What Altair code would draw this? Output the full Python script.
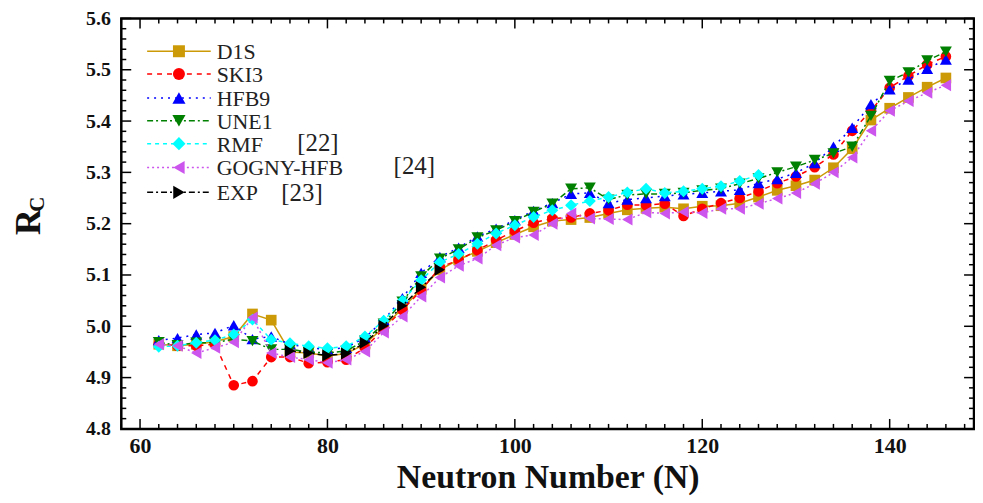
import altair as alt
import pandas as pd

# ---------------- data ----------------
N_ALL = list(range(62, 147, 2))   # 43 isotopes
N_RMF = list(range(62, 127, 2))   # 33
N_EXP = list(range(76, 93, 2))    # 9

D1S = [4.965, 4.962, 4.965, 4.970, 4.980,
       5.024, 5.012, 4.950, 4.948, 4.942,
       4.947, 4.965, 4.998, 5.035, 5.072,
       5.110, 5.130, 5.146, 5.163, 5.179,
       5.194, 5.205, 5.208, 5.212, 5.220,
       5.227, 5.230, 5.232, 5.229, 5.234,
       5.235, 5.240, 5.252, 5.265, 5.274,
       5.285, 5.309, 5.346, 5.402, 5.425,
       5.446, 5.466, 5.484]
SKI3 = [4.966, 4.962, 4.962, 4.965, 4.885,
        4.893, 4.940, 4.940, 4.928, 4.930,
        4.935, 4.958, 4.995, 5.032, 5.070,
        5.115, 5.129, 5.148, 5.168, 5.186,
        5.202, 5.210, 5.212, 5.220, 5.226,
        5.237, 5.236, 5.239, 5.215, 5.229,
        5.240, 5.250, 5.263, 5.279, 5.292,
        5.310, 5.335, 5.381, 5.420, 5.465,
        5.488, 5.510, 5.526]
HFB9 = [4.973, 4.977, 4.984, 4.987, 5.002,
        4.975, 4.980, 4.965, 4.958, 4.955,
        4.958, 4.978, 5.012, 5.055, 5.104,
        5.135, 5.153, 5.175, 5.190, 5.207,
        5.225, 5.240, 5.258, 5.260, 5.240,
        5.247, 5.250, 5.254, 5.257, 5.260,
        5.263, 5.266, 5.279, 5.287, 5.299,
        5.318, 5.350, 5.387, 5.433, 5.462,
        5.481, 5.502, 5.520]
UNE1 = [4.969, 4.963, 4.968, 4.968, 4.975,
        4.971, 4.955, 4.955, 4.950, 4.948,
        4.952, 4.972, 5.005, 5.048, 5.097,
        5.132, 5.150, 5.173, 5.187, 5.205,
        5.223, 5.239, 5.268, 5.270, 5.247,
        5.256, 5.258, 5.258, 5.260, 5.265,
        5.268, 5.278, 5.288, 5.300, 5.311,
        5.324, 5.337, 5.350, 5.410, 5.478,
        5.495, 5.518, 5.535]
RMF = [4.960, 4.962, 4.968, 4.973, 4.984,
       5.013, 4.974, 4.967, 4.961, 4.957,
       4.961, 4.980, 5.011, 5.050, 5.090,
       5.125, 5.141, 5.161, 5.181, 5.197,
       5.213, 5.226, 5.236, 5.244, 5.252,
       5.261, 5.268, 5.260, 5.263, 5.268,
       5.273, 5.283, 5.295]
GOGNY = [4.965, 4.962, 4.948, 4.958, 4.969,
         5.017, 4.948, 4.940, 4.935, 4.929,
         4.935, 4.951, 4.988, 5.019, 5.058,
         5.095, 5.118, 5.132, 5.158, 5.173,
         5.178, 5.200, 5.220, 5.210, 5.209,
         5.208, 5.222, 5.220, 5.223, 5.221,
         5.229, 5.229, 5.239, 5.249, 5.260,
         5.278, 5.300, 5.329, 5.381, 5.420,
         5.439, 5.455, 5.470]
EXP = [4.952, 4.948, 4.943, 4.947, 4.968, 5.001, 5.040, 5.076, 5.110]

SERIES_NAMES = ["D1S", "SKI3", "HFB9", "UNE1", "RMF", "GOGNY-HFB", "EXP"]
SERIES_REFS = ["", "", "", "", "[22]", "[24]", "[23]"]
SERIES_X = [N_ALL, N_ALL, N_ALL, N_ALL, N_RMF, N_ALL, N_EXP]
SERIES_Y = [D1S, SKI3, HFB9, UNE1, RMF, GOGNY, EXP]

X_LABELS = [60, 80, 100, 120, 140]
Y_LABELS = [round(4.8 + 0.1 * i, 1) for i in range(9)]

# ---------------- styles ----------------
COLORS = ["#CC9A06", "#FF0000", "#0000FF", "#008000", "#00FFFF", "#CC55EE", "#000000"]
SHAPES = ["square", "circle", "triangle-up", "triangle-down", "diamond",
          "triangle-left", "triangle-right"]
DASHES = [None, [5, 5], [2, 5], [6, 3, 2, 3], [4, 4], [2, 3], [6, 3, 2, 3]]
SIZES = [115, 115, 145, 145, 145, 145, 145]

W, H = 858, 413
FONT = "Liberation Serif"
XDOM = [58, 149]
YDOM = [4.8, 5.6]

x_axis = alt.Axis(values=X_LABELS, title="Neutron Number (N)", ticks=False, domain=False,
                  grid=False, labelFont=FONT, labelFontSize=22, labelFontWeight="bold",
                  labelColor="#111111", labelPadding=7, labelFlush=False,
                  titleFont=FONT, titleFontSize=34, titleFontWeight="bold",
                  titleColor="#111111", titlePadding=4)
y_axis = alt.Axis(values=Y_LABELS, format=".1f", title="", ticks=False, domain=False,
                  grid=False, labelFont=FONT, labelFontSize=20, labelFontWeight="bold",
                  labelColor="#111111", labelPadding=11, labelFlush=False)


def xenc(field):
    return alt.X(f"{field}:Q", scale=alt.Scale(domain=XDOM, nice=False, zero=False), axis=x_axis)


def yenc(field):
    return alt.Y(f"{field}:Q", scale=alt.Scale(domain=YDOM, nice=False, zero=False), axis=y_axis)


layers = []

# ---- inward ticks on all four sides ----
x_minor = [n for n in range(58, 150, 2) if n % 20 != 0]
x_major = [n for n in range(58, 150, 2) if n % 20 == 0]
y_all = [round(4.8 + 0.02 * i, 2) for i in range(41)]
y_minor = [v for v in y_all if round(v * 10, 4) != round(v * 10)]
y_major = [v for v in y_all if round(v * 10, 4) == round(v * 10)]

for vals, ln in ((x_minor, 5), (x_major, 10)):
    df = pd.DataFrame({"t": vals})
    layers.append(alt.Chart(df).mark_rule(color="black", strokeWidth=1.5).encode(
        x=xenc("t"), y=alt.value(H), y2=alt.value(H - ln)))
    layers.append(alt.Chart(df).mark_rule(color="black", strokeWidth=1.5).encode(
        x=xenc("t"), y=alt.value(0), y2=alt.value(ln)))
for vals, ln in ((y_minor, 5), (y_major, 10)):
    df = pd.DataFrame({"t": vals})
    layers.append(alt.Chart(df).mark_rule(color="black", strokeWidth=1.5).encode(
        y=yenc("t"), x=alt.value(0), x2=alt.value(ln)))
    layers.append(alt.Chart(df).mark_rule(color="black", strokeWidth=1.5).encode(
        y=yenc("t"), x=alt.value(W), x2=alt.value(W - ln)))

# ---- data series ----
for i, name in enumerate(SERIES_NAMES):
    df = pd.DataFrame({"N": SERIES_X[i], "R": SERIES_Y[i]})
    line_kw = dict(color=COLORS[i], strokeWidth=1.5)
    if DASHES[i] is not None:
        line_kw["strokeDash"] = DASHES[i]
    layers.append(alt.Chart(df).mark_line(**line_kw).encode(x=xenc("N"), y=yenc("R")))
    layers.append(alt.Chart(df).mark_point(
        shape=SHAPES[i], filled=True, size=SIZES[i], color=COLORS[i], opacity=1
    ).encode(x=xenc("N"), y=yenc("R")))

# ---- legend (inside plot, top-left) ----
LEG_ROWS = [33, 56, 80, 103, 126, 150, 175]
REF_X = [0, 0, 0, 0, 177, 274, 161]
REF_DY = [0, 0, 0, 0, -1, -1, 1]
one = pd.DataFrame({"a": [0]})
for i, name in enumerate(SERIES_NAMES):
    ry = LEG_ROWS[i]
    rule_kw = dict(color=COLORS[i], strokeWidth=1.5)
    if DASHES[i] is not None:
        rule_kw["strokeDash"] = DASHES[i]
    layers.append(alt.Chart(one).mark_rule(**rule_kw).encode(
        x=alt.value(26), x2=alt.value(90), y=alt.value(ry)))
    layers.append(alt.Chart(one).mark_point(
        shape=SHAPES[i], filled=True, size=SIZES[i] + 30, color=COLORS[i], opacity=1
    ).encode(x=alt.value(58), y=alt.value(ry)))
    layers.append(alt.Chart(one).mark_text(
        font=FONT, fontSize=22, align="left", baseline="middle", color="#222222"
    ).encode(x=alt.value(96), y=alt.value(ry + 1), text=alt.value(name)))
    if SERIES_REFS[i]:
        layers.append(alt.Chart(one).mark_text(
            font=FONT, fontSize=25, align="left", baseline="middle", color="#222222"
        ).encode(x=alt.value(REF_X[i]), y=alt.value(ry + REF_DY[i]),
                 text=alt.value(SERIES_REFS[i])))

# ---- y title  R_c ----
layers.append(alt.Chart(one).mark_text(
    font=FONT, fontSize=36, fontWeight="bold", angle=270, align="center",
    baseline="middle", color="#111111"
).encode(x=alt.value(-93), y=alt.value(205), text=alt.value("R")))
layers.append(alt.Chart(one).mark_text(
    font=FONT, fontSize=21, fontWeight="bold", angle=270, align="center",
    baseline="middle", color="#111111"
).encode(x=alt.value(-84), y=alt.value(187), text=alt.value("C")))

chart = alt.layer(*layers).properties(
    width=W, height=H,
    autosize=alt.AutoSizeParams(type="none"),
    padding={"left": 114, "top": 9, "right": 1, "bottom": 66},
    background="white",
).configure_view(stroke="black", strokeWidth=2.5)

chart.save("out.html", embed_options={"renderer": "svg", "actions": False})
